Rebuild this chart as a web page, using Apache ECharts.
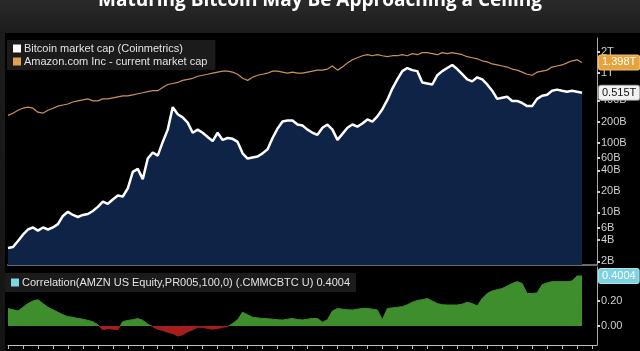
<!DOCTYPE html>
<html>
<head>
<meta charset="utf-8">
<script src="https://cdn.jsdelivr.net/npm/echarts@6/dist/echarts.min.js"></script>
<style>
  html, body { margin: 0; padding: 0; background: #000; }
  #chart-container { width: 640px; height: 351px; }
</style>
</head>
<body>
<div id="chart-container"></div>
<script>
var dom = document.getElementById("chart-container");
var myChart = echarts.init(dom, null, { renderer: "canvas" });

// market caps in billions USD
const btcCap = [3.1, 3.2, 3.9, 4.8, 5.7, 6.1, 5.5, 6.1, 5.7, 6.1,
  6.8, 8.9, 10.2, 9.2, 8.6, 9.2, 9.5, 10.5, 12.0, 14.3,
  13.3, 15.3, 17.5, 16.9, 22.1, 38, 42, 30, 59, 72,
  65, 102, 153, 321, 254, 229, 193, 138, 153, 138,
  120, 105, 138, 109, 116, 113, 102, 70, 59, 61,
  63, 70, 80, 116, 158, 200, 207, 207, 181, 175,
  153, 138, 129, 163, 181, 153, 109, 133, 163, 181,
  169, 187, 214, 199, 237, 300, 407, 591, 801, 1051,
  1164, 1086, 1051, 724, 700, 677, 918, 1051, 1164, 1288,
  1125, 949, 801, 749, 858, 801, 677, 552, 421, 436,
  451, 394, 394, 368, 332, 332, 421, 467, 482, 552,
  571, 552, 534, 552, 534, 515];

const amznCap = [245, 263, 290, 310, 321, 310, 272, 263, 290, 310,
  332, 344, 356, 380, 394, 407, 421, 394, 394, 421,
  421, 436, 451, 466, 466, 482, 499, 516, 534, 552,
  552, 611, 677, 700, 724, 775, 801, 830, 887, 918,
  949, 982, 1016, 1051, 1051, 1016, 949, 830, 775, 858,
  918, 949, 982, 1051, 1051, 1016, 982, 1016, 982, 982,
  1016, 1051, 1086, 1086, 1125, 1244, 1086, 1202, 1378, 1526,
  1633, 1746, 1806, 1746, 1806, 1746, 1690, 1746, 1746, 1806,
  1746, 1869, 1806, 1932, 1932, 1869, 1806, 1932, 1869, 1932,
  1869, 1806, 1690, 1633, 1578, 1476, 1426, 1332, 1288, 1244,
  1202, 1125, 1086, 1016, 949, 918, 1016, 1051, 1086, 1202,
  1244, 1288, 1378, 1476, 1526, 1398];

const correlation = [0.14, 0.13, 0.12, 0.15, 0.18, 0.20, 0.21, 0.18, 0.15, 0.13,
  0.11, 0.09, 0.075, 0.07, 0.06, 0.055, 0.045, 0.035, 0.01, -0.03,
  -0.02, -0.025, -0.03, 0.035, 0.045, 0.05, 0.06, 0.045, 0.015, -0.005,
  -0.025, -0.035, -0.05, -0.06, -0.08, -0.07, -0.045, -0.03, -0.01, -0.01,
  -0.02, -0.025, -0.02, -0.01, -0.005, 0.02, 0.05, 0.11, 0.09, 0.07,
  0.065, 0.06, 0.058, 0.055, 0.05, 0.048, 0.055, 0.06, 0.052, 0.048,
  0.055, 0.06, 0.06, 0.03, 0.05, 0.12, 0.14, 0.135, 0.13, 0.128,
  0.135, 0.14, 0.14, 0.135, 0.128, 0.05, 0.14, 0.145, 0.15, 0.155,
  0.17, 0.19, 0.205, 0.21, 0.22, 0.2, 0.18, 0.17, 0.168, 0.168,
  0.168, 0.175, 0.19, 0.18, 0.16, 0.22, 0.26, 0.28, 0.29, 0.30,
  0.32, 0.34, 0.355, 0.34, 0.26, 0.26, 0.265, 0.33, 0.345, 0.355,
  0.355, 0.355, 0.355, 0.36, 0.40, 0.4004];

const capTicks = [2, 4, 6, 10, 20, 40, 60, 100, 200, 400, 1000, 2000];
const corrTicks = [0, 0.2];

const btcName = "Bitcoin market cap (Coinmetrics)";
const amznName = "Amazon.com Inc - current market cap";
const corrName = "Correlation(AMZN US Equity,PR005,100,0) (.CMMCBTC U)";

// dates along the bottom (not readable in the picture, roughly Oct 2015 - mid 2023)
const dates = [];
var d0 = Date.UTC(2015, 9, 1);
for (var i = 0; i < 119; i++) {
  dates.push(echarts.time.format(d0 + i * 24.4 * 86400000, "{yyyy}-{MM}-{dd}", true));
}

const last = function (arr) { return arr[arr.length - 1]; };

function capLabel(v) {
  return v >= 1000 ? v / 1000 + "T" : v + "B";
}

// last-value tag sitting on the right axis
function flagLine(value, text, bg, fg, border) {
  return {
    symbol: "none",
    silent: true,
    lineStyle: { color: "transparent", width: 0 },
    label: {
      show: true,
      position: "end",
      distance: 2,
      formatter: text,
      opacity: 1,
      backgroundColor: bg,
      borderColor: border,
      borderWidth: 1,
      color: fg,
      padding: [2, 3, 1, 3],
      borderRadius: 2,
      fontSize: 11,
      fontFamily: "Liberation Sans",
    },
    data: [{ yAxis: value }],
  };
}

var option = {
  animation: false,
  backgroundColor: "#000",
  graphic: [
    {
      type: "rect", z: -10, silent: true,
      shape: { x: 0, y: 0, width: 640, height: 351 },
      style: {
        fill: new echarts.graphic.LinearGradient(0, 0, 0, 1, [
          { offset: 0, color: "#2a2a2a" },
          { offset: 0.09, color: "#1c1c1c" },
          { offset: 1, color: "#141414" },
        ]),
      },
    },
    {
      type: "rect", z: -9, silent: true,
      shape: { x: 5, y: 33, width: 635, height: 318 },
      style: { fill: "#000" },
    },
  ],
  title: {
    text: "Maturing Bitcoin May Be Approaching a Ceiling",
    left: "center",
    top: -14,
    textStyle: { color: "#fff", fontSize: 19, fontWeight: "bold", fontFamily: "Open Sans" },
  },
  legend: [
    {
      left: 7, top: 40, orient: "vertical",
      backgroundColor: "#1b1b1b",
      padding: [3, 8, 3, 6],
      itemWidth: 8, itemHeight: 8, itemGap: 2,
      icon: "rect", selectedMode: false,
      textStyle: { color: "#e2e2e2", fontSize: 11, fontFamily: "Liberation Sans", padding: [0, 0, 0, -2] },
      data: [
        { name: btcName, itemStyle: { color: "#ffffff" } },
        { name: amznName, itemStyle: { color: "#e0a24e" } },
      ],
    },
    {
      left: 5, top: 273,
      backgroundColor: "#1b1b1b",
      padding: [4, 6, 4, 6],
      itemWidth: 8, itemHeight: 8,
      icon: "rect", selectedMode: false,
      textStyle: { color: "#e2e2e2", fontSize: 11, fontFamily: "Liberation Sans", padding: [0, 0, 0, -2] },
      formatter: function (name) { return name + " " + last(correlation).toFixed(4); },
      data: [{ name: corrName, itemStyle: { color: "#7fd6e3" } }],
    },
  ],
  grid: [
    { left: 8, right: 43, top: 38, height: 227 },
    { left: 8, right: 43, top: 267, height: 78 },
  ],
  xAxis: [
    {
      type: "category", gridIndex: 0, data: dates, boundaryGap: false,
      axisLine: { lineStyle: { color: "#6a6a6a", width: 2 } },
      axisTick: { show: false }, axisLabel: { show: false },
    },
    {
      type: "category", gridIndex: 1, data: dates, boundaryGap: false,
      axisLine: { onZero: false, lineStyle: { color: "#bdbdbd", width: 1 } },
      axisTick: { show: true, interval: 2, length: 4, lineStyle: { color: "#bdbdbd" } },
      axisLabel: { show: false },
    },
  ],
  yAxis: [
    {
      type: "log", gridIndex: 0, position: "right", logBase: 10,
      min: 1.77, max: 3130,
      axisLine: { show: true, lineStyle: { color: "#a8a8a8" } },
      axisTick: { show: true, length: 3, customValues: capTicks, lineStyle: { color: "#d0d0d0", width: 2 } },
      axisLabel: {
        customValues: capTicks, formatter: capLabel,
        color: "#cfcfcf", fontSize: 11, margin: 4, fontFamily: "Liberation Sans",
      },
      splitLine: { show: false },
    },
    {
      type: "value", gridIndex: 1, position: "right",
      min: -0.152, max: 0.472,
      axisLine: { show: true, lineStyle: { color: "#a8a8a8" } },
      axisTick: { show: true, length: 3, customValues: corrTicks, lineStyle: { color: "#d0d0d0", width: 2 } },
      axisLabel: {
        customValues: corrTicks,
        formatter: function (v) { return v.toFixed(2); },
        color: "#cfcfcf", fontSize: 11, margin: 4, fontFamily: "Liberation Sans",
      },
      splitLine: { show: false },
    },
  ],
  visualMap: {
    type: "piecewise", show: false, seriesIndex: 2, dimension: 1,
    pieces: [
      { gt: 0, lte: 1, color: "#3f8e2d" },
      { gte: -1, lte: 0, color: "#a51d1d" },
    ],
    outOfRange: { color: "#3f8e2d" },
  },
  series: [
    {
      name: btcName, type: "line", xAxisIndex: 0, yAxisIndex: 0,
      data: btcCap, symbol: "none", z: 3, clip: false,
      lineStyle: { color: "#ffffff", width: 2.5 },
      itemStyle: { color: "#ffffff" },
      areaStyle: { color: "#0f2346", opacity: 1, origin: "start" },
      markLine: flagLine(last(btcCap), (last(btcCap) / 1000).toFixed(3) + "T", "#f2f2f2", "#111", "#999"),
    },
    {
      name: amznName, type: "line", xAxisIndex: 0, yAxisIndex: 0,
      data: amznCap, symbol: "none", z: 4, clip: false,
      lineStyle: { color: "#c9925a", width: 1.2 },
      itemStyle: { color: "#c9925a" },
      markLine: flagLine(last(amznCap), (last(amznCap) / 1000).toFixed(3) + "T", "#e6a23c", "#fff", "#f5c070"),
    },
    {
      name: corrName, type: "line", xAxisIndex: 1, yAxisIndex: 1,
      data: correlation, symbol: "none", clip: false,
      lineStyle: { width: 1 },
      areaStyle: { opacity: 1 },
      markLine: flagLine(last(correlation), last(correlation).toFixed(4), "#7dd3e0", "#fff", "#a8e6ee"),
    },
  ],
};

if (option && typeof option === "object") {
  myChart.setOption(option);
}

window.addEventListener("resize", myChart.resize);
</script>
</body>
</html>
